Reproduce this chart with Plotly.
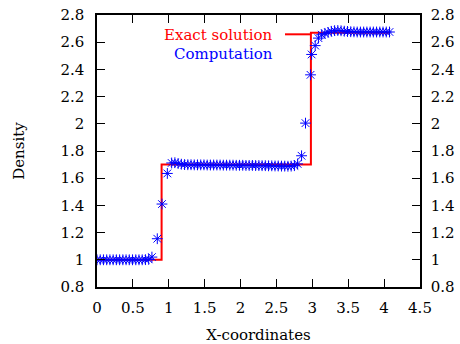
import plotly.graph_objects as go

# Exact solution (step profile)
x_exact = [0.0, 0.90, 2.98, 4.08]
y_exact = [1.0, 1.70, 2.67, 2.67]

# Computed density at mesh points
x_comp = [0.000, 0.045, 0.090, 0.135, 0.180, 0.225, 0.270, 0.315, 0.360, 0.405,
          0.450, 0.495, 0.540, 0.585, 0.630, 0.675, 0.720, 0.765, 0.840, 0.905,
          0.980, 1.040, 1.085, 1.130, 1.175, 1.220, 1.265, 1.310, 1.355, 1.400,
          1.445, 1.490, 1.535, 1.580, 1.625, 1.670, 1.715, 1.760, 1.805, 1.850,
          1.895, 1.940, 1.985, 2.030, 2.075, 2.120, 2.165, 2.210, 2.255, 2.300,
          2.345, 2.390, 2.435, 2.480, 2.525, 2.570, 2.615, 2.660, 2.705, 2.750,
          2.795, 2.850, 2.905, 2.975, 2.990, 3.040, 3.085, 3.130, 3.175, 3.220,
          3.265, 3.310, 3.355, 3.400, 3.445, 3.490, 3.535, 3.580, 3.625, 3.670,
          3.715, 3.760, 3.805, 3.850, 3.895, 3.940, 3.985, 4.030, 4.075]
y_comp = [1.000, 1.000, 1.000, 1.000, 1.000, 1.000, 1.000, 1.000, 1.000, 1.000,
          1.000, 1.000, 1.000, 1.000, 1.000, 1.001, 1.003, 1.020, 1.155, 1.410,
          1.635, 1.712, 1.714, 1.708, 1.703, 1.700, 1.699, 1.699, 1.698, 1.698,
          1.698, 1.698, 1.697, 1.697, 1.697, 1.697, 1.697, 1.696, 1.696, 1.696,
          1.696, 1.695, 1.695, 1.695, 1.694, 1.694, 1.694, 1.693, 1.693, 1.692,
          1.692, 1.691, 1.691, 1.690, 1.690, 1.689, 1.689, 1.688, 1.689, 1.692,
          1.705, 1.765, 2.005, 2.360, 2.510, 2.575, 2.630, 2.655, 2.665, 2.672,
          2.680, 2.685, 2.686, 2.684, 2.681, 2.679, 2.677, 2.676, 2.675, 2.675,
          2.675, 2.675, 2.675, 2.675, 2.675, 2.675, 2.675, 2.675, 2.675]

x_ticks = [0, 0.5, 1, 1.5, 2, 2.5, 3, 3.5, 4, 4.5]
y_ticks = [0.8, 1, 1.2, 1.4, 1.6, 1.8, 2, 2.2, 2.4, 2.6, 2.8]
x_tick_text = ["0", "0.5", "1", "1.5", "2", "2.5", "3", "3.5", "4", "4.5"]
y_tick_text = ["0.8", "1", "1.2", "1.4", "1.6", "1.8", "2", "2.2", "2.4", "2.6", "2.8"]

FONT = "DejaVu Serif"
RED = "rgb(255,0,0)"
BLUE = "rgb(0,0,255)"

fig = go.Figure()
fig.add_trace(go.Scatter(x=x_exact, y=y_exact, mode="lines", line_shape="hv",
                         line=dict(color=RED, width=2), showlegend=False,
                         hoverinfo="skip"))
fig.add_trace(go.Scatter(x=x_comp, y=y_comp, mode="markers", showlegend=False,
                         marker=dict(symbol="asterisk-open", size=9,
                                     color=BLUE, line=dict(color=BLUE, width=1))))
# dummy trace to activate the right-hand axis
fig.add_trace(go.Scatter(x=[None], y=[None], yaxis="y2", showlegend=False,
                         hoverinfo="skip"))

axis_common = dict(showgrid=False, zeroline=False, ticks="inside", ticklen=8,
                   tickwidth=1, tickcolor="black", showline=True,
                   linecolor="black", linewidth=1.5, automargin=False,
                   tickfont=dict(family=FONT, size=15, color="black"))

fig.update_layout(
    width=460, height=344,
    margin=dict(l=97, r=40, t=15, b=57),
    paper_bgcolor="white", plot_bgcolor="white",
    font=dict(family=FONT, size=15, color="black"),
    xaxis=dict(range=[0, 4.5], tickvals=x_ticks, ticktext=x_tick_text,
               mirror="ticks", ticklabelstandoff=6,
               title=dict(text="X-coordinates", standoff=15,
                          font=dict(family=FONT, size=15)),
               **axis_common),
    yaxis=dict(range=[0.8, 2.8], tickvals=y_ticks, ticktext=y_tick_text,
               mirror=True, ticklabelstandoff=8,
               title=dict(text="Density", standoff=32,
                          font=dict(family=FONT, size=15)),
               **axis_common),
    yaxis2=dict(range=[0.8, 2.8], tickvals=y_ticks, ticktext=y_tick_text,
                overlaying="y", side="right", ticklabelstandoff=6,
                **axis_common),
    annotations=[
        dict(text="Exact solution", xref="paper", yref="paper", x=0.552, y=0.926,
             xanchor="right", yanchor="middle", showarrow=False,
             font=dict(family=FONT, size=15, color=RED)),
        dict(text="Computation", xref="paper", yref="paper", x=0.552, y=0.857,
             xanchor="right", yanchor="middle", showarrow=False,
             font=dict(family=FONT, size=15, color=BLUE)),
    ],
    shapes=[dict(type="line", xref="paper", yref="paper", x0=0.582, x1=0.662,
                 y0=0.929, y1=0.929, line=dict(color=RED, width=2))],
)

fig.write_html("out.html", config={"displayModeBar": False},
               post_script="document.body.style.margin='0';")
